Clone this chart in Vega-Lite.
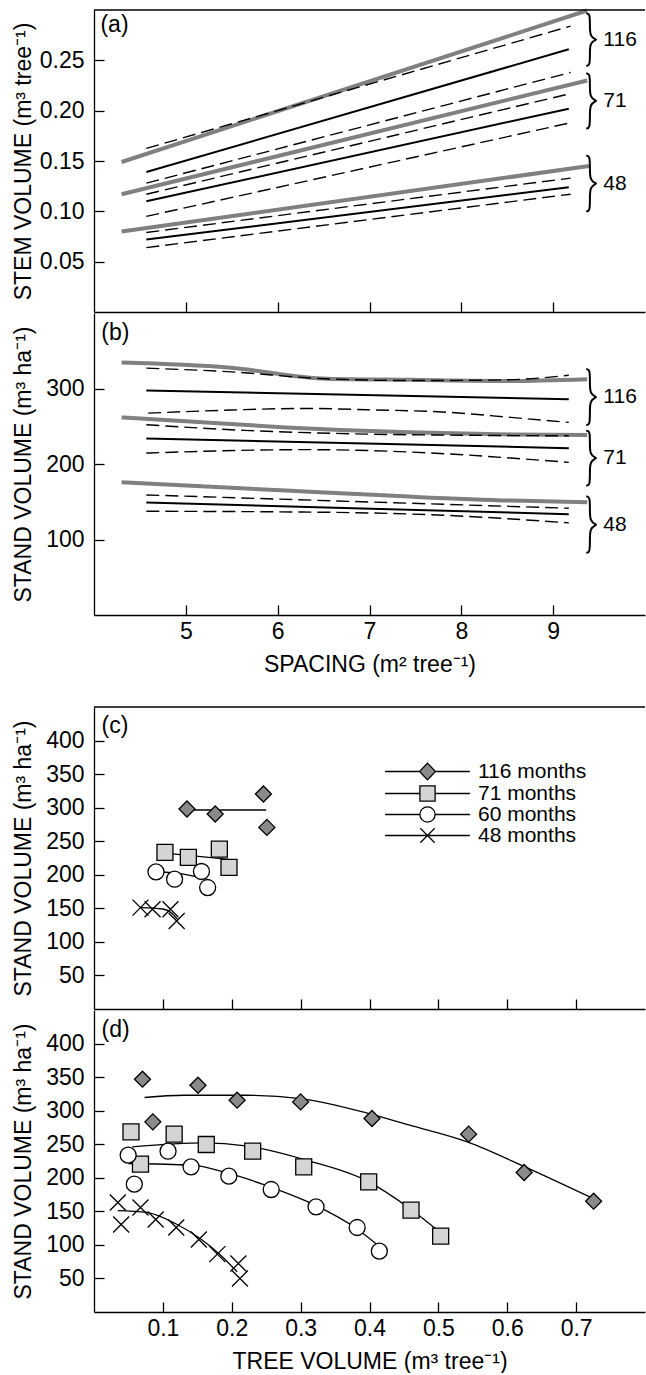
{
  "$schema": "https://vega.github.io/schema/vega-lite/v6.json",
  "padding": {"left": 11, "top": 2, "right": 0, "bottom": 0},
  "config": {
    "view": {"stroke": null},
    "font": "Liberation Sans",
    "text": {"font": "Liberation Sans", "color": "black"},
    "axis": {
      "labelFont": "Liberation Sans", "titleFont": "Liberation Sans",
      "labelFontSize": 23, "titleFontSize": 23, "titleFontWeight": "normal",
      "labelColor": "black", "titleColor": "black",
      "domainColor": "black", "tickColor": "black",
      "domainWidth": 1.3, "tickWidth": 1.3, "grid": false,
      "labelFlush": false, "labelOverlap": false
    },
    "axisY": {"tickSize": -10, "labelPadding": 20, "minExtent": 55, "maxExtent": 55, "titlePadding": 4},
    "axisX": {"tickSize": -10, "labelPadding": 15, "titlePadding": 10},
    "legend": {"labelFont": "Liberation Sans", "labelFontSize": 21, "labelColor": "black"}
  },
  "datasets": {
    "fitA": [
      {"age": "116", "kind": "fit", "spacing": 4.30, "vol": 0.149},
      {"age": "116", "kind": "fit", "spacing": 9.37, "vol": 0.2995},
      {"age": "116", "kind": "upper", "spacing": 4.57, "vol": 0.1625},
      {"age": "116", "kind": "upper", "spacing": 9.19, "vol": 0.284},
      {"age": "116", "kind": "estimate", "spacing": 4.57, "vol": 0.139},
      {"age": "116", "kind": "estimate", "spacing": 9.17, "vol": 0.261},
      {"age": "116", "kind": "lower", "spacing": 4.57, "vol": 0.128},
      {"age": "116", "kind": "lower", "spacing": 9.19, "vol": 0.238},
      {"age": "71", "kind": "fit", "spacing": 4.30, "vol": 0.117},
      {"age": "71", "kind": "fit", "spacing": 9.37, "vol": 0.230},
      {"age": "71", "kind": "upper", "spacing": 4.57, "vol": 0.117},
      {"age": "71", "kind": "upper", "spacing": 9.19, "vol": 0.217},
      {"age": "71", "kind": "estimate", "spacing": 4.57, "vol": 0.110},
      {"age": "71", "kind": "estimate", "spacing": 9.17, "vol": 0.202},
      {"age": "71", "kind": "lower", "spacing": 4.57, "vol": 0.095},
      {"age": "71", "kind": "lower", "spacing": 9.19, "vol": 0.188},
      {"age": "48", "kind": "fit", "spacing": 4.30, "vol": 0.080},
      {"age": "48", "kind": "fit", "spacing": 9.39, "vol": 0.145},
      {"age": "48", "kind": "upper", "spacing": 4.57, "vol": 0.079},
      {"age": "48", "kind": "upper", "spacing": 9.19, "vol": 0.133},
      {"age": "48", "kind": "estimate", "spacing": 4.57, "vol": 0.072},
      {"age": "48", "kind": "estimate", "spacing": 9.17, "vol": 0.124},
      {"age": "48", "kind": "lower", "spacing": 4.57, "vol": 0.064},
      {"age": "48", "kind": "lower", "spacing": 9.19, "vol": 0.117}
    ],
    "fitB": [
      {"age": "116", "kind": "fit", "spacing": 4.30, "vol": 334.4},
      {"age": "116", "kind": "fit", "spacing": 5.46, "vol": 327.8},
      {"age": "116", "kind": "fit", "spacing": 6.54, "vol": 313.0},
      {"age": "116", "kind": "fit", "spacing": 7.43, "vol": 311.5},
      {"age": "116", "kind": "fit", "spacing": 8.54, "vol": 310.0},
      {"age": "116", "kind": "fit", "spacing": 9.37, "vol": 312.3},
      {"age": "116", "kind": "upper", "spacing": 4.57, "vol": 327.0},
      {"age": "116", "kind": "upper", "spacing": 5.5, "vol": 322.0},
      {"age": "116", "kind": "upper", "spacing": 6.5, "vol": 313.0},
      {"age": "116", "kind": "upper", "spacing": 7.5, "vol": 310.5},
      {"age": "116", "kind": "upper", "spacing": 8.5, "vol": 311.5},
      {"age": "116", "kind": "upper", "spacing": 9.17, "vol": 317.6},
      {"age": "116", "kind": "estimate", "spacing": 4.57, "vol": 297.4},
      {"age": "116", "kind": "estimate", "spacing": 9.17, "vol": 285.9},
      {"age": "116", "kind": "lower", "spacing": 4.59, "vol": 267.4},
      {"age": "116", "kind": "lower", "spacing": 5.5, "vol": 271.5},
      {"age": "116", "kind": "lower", "spacing": 6.31, "vol": 273.6},
      {"age": "116", "kind": "lower", "spacing": 6.98, "vol": 271.8},
      {"age": "116", "kind": "lower", "spacing": 7.88, "vol": 268.3},
      {"age": "116", "kind": "lower", "spacing": 8.54, "vol": 261.7},
      {"age": "116", "kind": "lower", "spacing": 9.17, "vol": 255.1},
      {"age": "71", "kind": "fit", "spacing": 4.30, "vol": 261.7},
      {"age": "71", "kind": "fit", "spacing": 5.0, "vol": 256.5},
      {"age": "71", "kind": "fit", "spacing": 6.09, "vol": 248.5},
      {"age": "71", "kind": "fit", "spacing": 7.43, "vol": 241.9},
      {"age": "71", "kind": "fit", "spacing": 8.54, "vol": 239.2},
      {"age": "71", "kind": "fit", "spacing": 9.37, "vol": 238.3},
      {"age": "71", "kind": "upper", "spacing": 4.57, "vol": 252.0},
      {"age": "71", "kind": "upper", "spacing": 5.64, "vol": 244.5},
      {"age": "71", "kind": "upper", "spacing": 6.98, "vol": 239.6},
      {"age": "71", "kind": "upper", "spacing": 8.1, "vol": 238.0},
      {"age": "71", "kind": "upper", "spacing": 9.17, "vol": 237.4},
      {"age": "71", "kind": "estimate", "spacing": 4.57, "vol": 233.9},
      {"age": "71", "kind": "estimate", "spacing": 9.17, "vol": 221.0},
      {"age": "71", "kind": "lower", "spacing": 4.57, "vol": 214.5},
      {"age": "71", "kind": "lower", "spacing": 6.31, "vol": 219.0},
      {"age": "71", "kind": "lower", "spacing": 7.88, "vol": 213.2},
      {"age": "71", "kind": "lower", "spacing": 8.54, "vol": 207.9},
      {"age": "71", "kind": "lower", "spacing": 9.17, "vol": 202.2},
      {"age": "48", "kind": "fit", "spacing": 4.30, "vol": 175.8},
      {"age": "48", "kind": "fit", "spacing": 6.09, "vol": 164.8},
      {"age": "48", "kind": "fit", "spacing": 7.43, "vol": 156.8},
      {"age": "48", "kind": "fit", "spacing": 8.54, "vol": 151.5},
      {"age": "48", "kind": "fit", "spacing": 9.37, "vol": 149.3},
      {"age": "48", "kind": "upper", "spacing": 4.57, "vol": 159.0},
      {"age": "48", "kind": "upper", "spacing": 9.17, "vol": 141.4},
      {"age": "48", "kind": "estimate", "spacing": 4.57, "vol": 148.9},
      {"age": "48", "kind": "estimate", "spacing": 9.17, "vol": 133.5},
      {"age": "48", "kind": "lower", "spacing": 4.57, "vol": 137.4},
      {"age": "48", "kind": "lower", "spacing": 6.5, "vol": 136.1},
      {"age": "48", "kind": "lower", "spacing": 7.88, "vol": 131.7},
      {"age": "48", "kind": "lower", "spacing": 9.17, "vol": 122.0}
    ],
    "bracesA": [
      {"age": "116", "seq": 1, "spacing": 9.36, "vol": 0.2966},
      {"age": "116", "seq": 2, "spacing": 9.40, "vol": 0.2966},
      {"age": "116", "seq": 3, "spacing": 9.40, "vol": 0.2849},
      {"age": "116", "seq": 4, "spacing": 9.40, "vol": 0.2737},
      {"age": "116", "seq": 5, "spacing": 9.47, "vol": 0.2706},
      {"age": "116", "seq": 6, "spacing": 9.47, "vol": 0.2706},
      {"age": "116", "seq": 7, "spacing": 9.40, "vol": 0.2675},
      {"age": "116", "seq": 8, "spacing": 9.40, "vol": 0.2563},
      {"age": "116", "seq": 9, "spacing": 9.40, "vol": 0.2446},
      {"age": "116", "seq": 10, "spacing": 9.36, "vol": 0.2446},
      {"age": "71", "seq": 1, "spacing": 9.36, "vol": 0.2370},
      {"age": "71", "seq": 2, "spacing": 9.40, "vol": 0.2370},
      {"age": "71", "seq": 3, "spacing": 9.40, "vol": 0.2247},
      {"age": "71", "seq": 4, "spacing": 9.40, "vol": 0.2130},
      {"age": "71", "seq": 5, "spacing": 9.47, "vol": 0.2097},
      {"age": "71", "seq": 6, "spacing": 9.47, "vol": 0.2097},
      {"age": "71", "seq": 7, "spacing": 9.40, "vol": 0.2064},
      {"age": "71", "seq": 8, "spacing": 9.40, "vol": 0.1947},
      {"age": "71", "seq": 9, "spacing": 9.40, "vol": 0.1824},
      {"age": "71", "seq": 10, "spacing": 9.36, "vol": 0.1824},
      {"age": "48", "seq": 1, "spacing": 9.36, "vol": 0.1552},
      {"age": "48", "seq": 2, "spacing": 9.40, "vol": 0.1552},
      {"age": "48", "seq": 3, "spacing": 9.40, "vol": 0.1428},
      {"age": "48", "seq": 4, "spacing": 9.40, "vol": 0.1309},
      {"age": "48", "seq": 5, "spacing": 9.47, "vol": 0.1276},
      {"age": "48", "seq": 6, "spacing": 9.47, "vol": 0.1276},
      {"age": "48", "seq": 7, "spacing": 9.40, "vol": 0.1243},
      {"age": "48", "seq": 8, "spacing": 9.40, "vol": 0.1124},
      {"age": "48", "seq": 9, "spacing": 9.40, "vol": 0.1000},
      {"age": "48", "seq": 10, "spacing": 9.36, "vol": 0.1000}
    ],
    "bracesB": [
      {"age": "116", "seq": 1, "spacing": 9.36, "vol": 325.6},
      {"age": "116", "seq": 2, "spacing": 9.40, "vol": 325.6},
      {"age": "116", "seq": 3, "spacing": 9.40, "vol": 309.0},
      {"age": "116", "seq": 4, "spacing": 9.40, "vol": 293.0},
      {"age": "116", "seq": 5, "spacing": 9.47, "vol": 288.6},
      {"age": "116", "seq": 6, "spacing": 9.47, "vol": 288.6},
      {"age": "116", "seq": 7, "spacing": 9.40, "vol": 284.2},
      {"age": "116", "seq": 8, "spacing": 9.40, "vol": 268.2},
      {"age": "116", "seq": 9, "spacing": 9.40, "vol": 251.5},
      {"age": "116", "seq": 10, "spacing": 9.36, "vol": 251.5},
      {"age": "71", "seq": 1, "spacing": 9.36, "vol": 244.1},
      {"age": "71", "seq": 2, "spacing": 9.40, "vol": 244.1},
      {"age": "71", "seq": 3, "spacing": 9.40, "vol": 227.8},
      {"age": "71", "seq": 4, "spacing": 9.40, "vol": 212.2},
      {"age": "71", "seq": 5, "spacing": 9.47, "vol": 207.8},
      {"age": "71", "seq": 6, "spacing": 9.47, "vol": 207.8},
      {"age": "71", "seq": 7, "spacing": 9.40, "vol": 203.4},
      {"age": "71", "seq": 8, "spacing": 9.40, "vol": 187.8},
      {"age": "71", "seq": 9, "spacing": 9.40, "vol": 171.4},
      {"age": "71", "seq": 10, "spacing": 9.36, "vol": 171.4},
      {"age": "48", "seq": 1, "spacing": 9.36, "vol": 156.8},
      {"age": "48", "seq": 2, "spacing": 9.40, "vol": 156.8},
      {"age": "48", "seq": 3, "spacing": 9.40, "vol": 140.1},
      {"age": "48", "seq": 4, "spacing": 9.40, "vol": 124.1},
      {"age": "48", "seq": 5, "spacing": 9.47, "vol": 119.6},
      {"age": "48", "seq": 6, "spacing": 9.47, "vol": 119.6},
      {"age": "48", "seq": 7, "spacing": 9.40, "vol": 115.1},
      {"age": "48", "seq": 8, "spacing": 9.40, "vol": 99.1},
      {"age": "48", "seq": 9, "spacing": 9.40, "vol": 82.4},
      {"age": "48", "seq": 10, "spacing": 9.36, "vol": 82.4}
    ],
    "pointsC": [
      {"series": "116 months", "tree": 0.135, "stand": 298.0},
      {"series": "116 months", "tree": 0.176, "stand": 290.5},
      {"series": "116 months", "tree": 0.246, "stand": 320.4},
      {"series": "116 months", "tree": 0.251, "stand": 270.6},
      {"series": "71 months", "tree": 0.103, "stand": 233.3},
      {"series": "71 months", "tree": 0.137, "stand": 225.8},
      {"series": "71 months", "tree": 0.182, "stand": 238.2},
      {"series": "71 months", "tree": 0.196, "stand": 210.9},
      {"series": "60 months", "tree": 0.090, "stand": 204.4},
      {"series": "60 months", "tree": 0.117, "stand": 193.4},
      {"series": "60 months", "tree": 0.156, "stand": 204.9},
      {"series": "60 months", "tree": 0.165, "stand": 181.0},
      {"series": "48 months", "tree": 0.0675, "stand": 151.1},
      {"series": "48 months", "tree": 0.085, "stand": 148.6},
      {"series": "48 months", "tree": 0.111, "stand": 148.6},
      {"series": "48 months", "tree": 0.120, "stand": 131.2}
    ],
    "curvesC": [
      {"series": "116 months", "tree": 0.135, "stand": 296.5},
      {"series": "116 months", "tree": 0.250, "stand": 296.5},
      {"series": "71 months", "tree": 0.103, "stand": 232.3},
      {"series": "71 months", "tree": 0.196, "stand": 222.8},
      {"series": "60 months", "tree": 0.091, "stand": 204.9},
      {"series": "60 months", "tree": 0.130, "stand": 200.9},
      {"series": "60 months", "tree": 0.169, "stand": 191.9},
      {"series": "48 months", "tree": 0.0675, "stand": 151.0},
      {"series": "48 months", "tree": 0.100, "stand": 149.0},
      {"series": "48 months", "tree": 0.112, "stand": 143.5},
      {"series": "48 months", "tree": 0.121, "stand": 134.0}
    ],
    "pointsD": [
      {"series": "116 months", "tree": 0.0704, "stand": 346.9},
      {"series": "116 months", "tree": 0.0854, "stand": 283.3},
      {"series": "116 months", "tree": 0.151, "stand": 337.9},
      {"series": "116 months", "tree": 0.2078, "stand": 315.6},
      {"series": "116 months", "tree": 0.300, "stand": 313.1},
      {"series": "116 months", "tree": 0.4036, "stand": 288.3},
      {"series": "116 months", "tree": 0.5439, "stand": 265.0},
      {"series": "116 months", "tree": 0.6245, "stand": 207.8},
      {"series": "116 months", "tree": 0.7254, "stand": 165.1},
      {"series": "71 months", "tree": 0.0537, "stand": 268.4},
      {"series": "71 months", "tree": 0.0675, "stand": 220.3},
      {"series": "71 months", "tree": 0.1164, "stand": 264.9},
      {"series": "71 months", "tree": 0.163, "stand": 249.6},
      {"series": "71 months", "tree": 0.2304, "stand": 239.6},
      {"series": "71 months", "tree": 0.3045, "stand": 216.3},
      {"series": "71 months", "tree": 0.3988, "stand": 194.0},
      {"series": "71 months", "tree": 0.4603, "stand": 151.7},
      {"series": "71 months", "tree": 0.5033, "stand": 113.0},
      {"series": "60 months", "tree": 0.0496, "stand": 233.7},
      {"series": "60 months", "tree": 0.0585, "stand": 190.5},
      {"series": "60 months", "tree": 0.1075, "stand": 239.6},
      {"series": "60 months", "tree": 0.1409, "stand": 216.3},
      {"series": "60 months", "tree": 0.1958, "stand": 202.4},
      {"series": "60 months", "tree": 0.2573, "stand": 182.5},
      {"series": "60 months", "tree": 0.3224, "stand": 156.7},
      {"series": "60 months", "tree": 0.3821, "stand": 125.9},
      {"series": "60 months", "tree": 0.4143, "stand": 90.7},
      {"series": "48 months", "tree": 0.0346, "stand": 163.2},
      {"series": "48 months", "tree": 0.0394, "stand": 130.4},
      {"series": "48 months", "tree": 0.0675, "stand": 155.7},
      {"series": "48 months", "tree": 0.0896, "stand": 137.8},
      {"series": "48 months", "tree": 0.1194, "stand": 125.9},
      {"series": "48 months", "tree": 0.1522, "stand": 108.0},
      {"series": "48 months", "tree": 0.1791, "stand": 86.2},
      {"series": "48 months", "tree": 0.2096, "stand": 72.3},
      {"series": "48 months", "tree": 0.2119, "stand": 50.0}
    ],
    "curvesD": [
      {"series": "116 months", "tree": 0.0734, "stand": 319.6},
      {"series": "116 months", "tree": 0.13, "stand": 323.0},
      {"series": "116 months", "tree": 0.22, "stand": 323.0},
      {"series": "116 months", "tree": 0.30, "stand": 318.0},
      {"series": "116 months", "tree": 0.399, "stand": 295.7},
      {"series": "116 months", "tree": 0.4585, "stand": 278.4},
      {"series": "116 months", "tree": 0.542, "stand": 253.5},
      {"series": "116 months", "tree": 0.6257, "stand": 216.3},
      {"series": "116 months", "tree": 0.727, "stand": 168.0},
      {"series": "71 months", "tree": 0.0555, "stand": 246.0},
      {"series": "71 months", "tree": 0.16, "stand": 252.0},
      {"series": "71 months", "tree": 0.22, "stand": 247.6},
      {"series": "71 months", "tree": 0.309, "stand": 226.0},
      {"series": "71 months", "tree": 0.399, "stand": 194.0},
      {"series": "71 months", "tree": 0.4585, "stand": 154.2},
      {"series": "71 months", "tree": 0.5003, "stand": 120.5},
      {"series": "60 months", "tree": 0.0496, "stand": 221.3},
      {"series": "60 months", "tree": 0.142, "stand": 218.8},
      {"series": "60 months", "tree": 0.196, "stand": 206.4},
      {"series": "60 months", "tree": 0.2555, "stand": 186.5},
      {"series": "60 months", "tree": 0.321, "stand": 159.2},
      {"series": "60 months", "tree": 0.381, "stand": 124.4},
      {"series": "60 months", "tree": 0.4167, "stand": 95.6},
      {"series": "48 months", "tree": 0.0346, "stand": 151.2},
      {"series": "48 months", "tree": 0.0764, "stand": 148.3},
      {"series": "48 months", "tree": 0.118, "stand": 131.9},
      {"series": "48 months", "tree": 0.154, "stand": 109.5},
      {"series": "48 months", "tree": 0.1839, "stand": 84.7},
      {"series": "48 months", "tree": 0.2078, "stand": 59.9}
    ]
  },
  "vconcat": [
    {
      "spacing": 0,
      "vconcat": [
        {
          "width": 551, "height": 302,
          "data": {"name": "fitA"},
          "layer": [
            {
              "transform": [{"filter": "datum.kind === 'fit'"}],
              "mark": {"type": "line", "stroke": "#808080", "strokeWidth": 4, "interpolate": "monotone"},
              "encoding": {
                "x": {"field": "spacing", "type": "quantitative", "scale": {"domain": [4, 10], "nice": false, "zero": false},
                      "axis": {"orient": "bottom", "values": [5, 6, 7, 8, 9], "labels": false, "title": null}},
                "y": {"field": "vol", "type": "quantitative", "scale": {"domain": [0, 0.3], "nice": false},
                      "axis": {"values": [0.05, 0.1, 0.15, 0.2, 0.25], "format": ".2f", "title": "STEM VOLUME (m³ tree⁻¹)"}},
                "detail": {"field": "age"}
              }
            },
            {
              "data": {"values": [{}]},
              "mark": {"type": "rule", "stroke": "black", "strokeWidth": 1.3},
              "encoding": {
                "y": {"datum": 0.3, "type": "quantitative", "scale": {"domain": [0, 0.3], "nice": false}, "axis": null}
              }
            },
            {
              "transform": [{"filter": "datum.kind === 'upper' || datum.kind === 'lower'"}],
              "mark": {"type": "line", "stroke": "black", "strokeWidth": 1.4, "strokeDash": [13, 6], "interpolate": "monotone"},
              "encoding": {
                "x": {"field": "spacing", "type": "quantitative", "scale": {"domain": [4, 10], "nice": false, "zero": false}, "axis": null},
                "y": {"field": "vol", "type": "quantitative", "scale": {"domain": [0, 0.3], "nice": false}, "axis": null},
                "detail": [{"field": "age"}, {"field": "kind"}]
              }
            },
            {
              "transform": [{"filter": "datum.kind === 'estimate'"}],
              "mark": {"type": "line", "stroke": "black", "strokeWidth": 2, "interpolate": "monotone"},
              "encoding": {
                "x": {"field": "spacing", "type": "quantitative", "scale": {"domain": [4, 10], "nice": false, "zero": false}, "axis": null},
                "y": {"field": "vol", "type": "quantitative", "scale": {"domain": [0, 0.3], "nice": false}, "axis": null},
                "detail": {"field": "age"}
              }
            },
            {
              "data": {"name": "bracesA"},
              "mark": {"type": "line", "stroke": "black", "strokeWidth": 2, "interpolate": "basis"},
              "encoding": {
                "x": {"field": "spacing", "type": "quantitative", "scale": {"domain": [4, 10], "nice": false, "zero": false}, "axis": null},
                "y": {"field": "vol", "type": "quantitative", "scale": {"domain": [0, 0.3], "nice": false}, "axis": null},
                "detail": {"field": "age"},
                "order": {"field": "seq"}
              }
            },
            {
              "data": {"name": "bracesA"},
              "transform": [{"filter": "datum.seq === 5"}],
              "mark": {"type": "text", "align": "left", "baseline": "middle", "dx": 7, "fontSize": 21},
              "encoding": {
                "x": {"field": "spacing", "type": "quantitative", "scale": {"domain": [4, 10], "nice": false, "zero": false}, "axis": null},
                "y": {"field": "vol", "type": "quantitative", "scale": {"domain": [0, 0.3], "nice": false}, "axis": null},
                "text": {"field": "age"}
              }
            },
            {
              "data": {"values": [{}]},
              "mark": {"type": "text", "text": "(a)", "align": "left", "baseline": "middle", "fontSize": 23},
              "encoding": {
                "x": {"datum": 4.07, "type": "quantitative", "scale": {"domain": [4, 10], "nice": false, "zero": false}, "axis": null},
                "y": {"datum": 0.2854, "type": "quantitative", "scale": {"domain": [0, 0.3], "nice": false}, "axis": null}
              }
            }
          ],
          "resolve": {"axis": {"x": "independent", "y": "independent"}}
        },
        {
          "width": 551, "height": 302,
          "data": {"name": "fitB"},
          "layer": [
            {
              "transform": [{"filter": "datum.kind === 'fit'"}],
              "mark": {"type": "line", "stroke": "#808080", "strokeWidth": 4, "interpolate": "monotone"},
              "encoding": {
                "x": {"field": "spacing", "type": "quantitative", "scale": {"domain": [4, 10], "nice": false, "zero": false},
                      "axis": {"orient": "bottom", "values": [5, 6, 7, 8, 9], "title": "SPACING (m² tree⁻¹)"}},
                "y": {"field": "vol", "type": "quantitative", "scale": {"domain": [0, 400], "nice": false},
                      "axis": {"values": [100, 200, 300], "title": "STAND VOLUME (m³ ha⁻¹)"}},
                "detail": {"field": "age"}
              }
            },
            {
              "transform": [{"filter": "datum.kind === 'upper' || datum.kind === 'lower'"}],
              "mark": {"type": "line", "stroke": "black", "strokeWidth": 1.4, "strokeDash": [13, 6], "interpolate": "monotone"},
              "encoding": {
                "x": {"field": "spacing", "type": "quantitative", "scale": {"domain": [4, 10], "nice": false, "zero": false}, "axis": null},
                "y": {"field": "vol", "type": "quantitative", "scale": {"domain": [0, 400], "nice": false}, "axis": null},
                "detail": [{"field": "age"}, {"field": "kind"}]
              }
            },
            {
              "transform": [{"filter": "datum.kind === 'estimate'"}],
              "mark": {"type": "line", "stroke": "black", "strokeWidth": 2, "interpolate": "monotone"},
              "encoding": {
                "x": {"field": "spacing", "type": "quantitative", "scale": {"domain": [4, 10], "nice": false, "zero": false}, "axis": null},
                "y": {"field": "vol", "type": "quantitative", "scale": {"domain": [0, 400], "nice": false}, "axis": null},
                "detail": {"field": "age"}
              }
            },
            {
              "data": {"name": "bracesB"},
              "mark": {"type": "line", "stroke": "black", "strokeWidth": 2, "interpolate": "basis"},
              "encoding": {
                "x": {"field": "spacing", "type": "quantitative", "scale": {"domain": [4, 10], "nice": false, "zero": false}, "axis": null},
                "y": {"field": "vol", "type": "quantitative", "scale": {"domain": [0, 400], "nice": false}, "axis": null},
                "detail": {"field": "age"},
                "order": {"field": "seq"}
              }
            },
            {
              "data": {"name": "bracesB"},
              "transform": [{"filter": "datum.seq === 5"}],
              "mark": {"type": "text", "align": "left", "baseline": "middle", "dx": 7, "fontSize": 21},
              "encoding": {
                "x": {"field": "spacing", "type": "quantitative", "scale": {"domain": [4, 10], "nice": false, "zero": false}, "axis": null},
                "y": {"field": "vol", "type": "quantitative", "scale": {"domain": [0, 400], "nice": false}, "axis": null},
                "text": {"field": "age"}
              }
            },
            {
              "data": {"values": [{}]},
              "mark": {"type": "text", "text": "(b)", "align": "left", "baseline": "middle", "fontSize": 23},
              "encoding": {
                "x": {"datum": 4.08, "type": "quantitative", "scale": {"domain": [4, 10], "nice": false, "zero": false}, "axis": null},
                "y": {"datum": 373.6, "type": "quantitative", "scale": {"domain": [0, 400], "nice": false}, "axis": null}
              }
            }
          ],
          "resolve": {"axis": {"x": "independent", "y": "independent"}}
        }
      ]
    },
    {
      "spacing": 0,
      "resolve": {
        "scale": {"shape": "independent", "fill": "independent"},
        "legend": {"shape": "independent", "fill": "independent"}
      },
      "vconcat": [
        {
          "width": 551, "height": 302,
          "layer": [
            {
              "data": {"name": "curvesC"},
              "mark": {"type": "line", "stroke": "black", "strokeWidth": 1.3, "interpolate": "monotone"},
              "encoding": {
                "x": {"field": "tree", "type": "quantitative", "scale": {"domain": [0, 0.8], "nice": false},
                      "axis": {"orient": "bottom", "values": [0.1, 0.2, 0.3, 0.4, 0.5, 0.6, 0.7], "labels": false, "title": null}},
                "y": {"field": "stand", "type": "quantitative", "scale": {"domain": [0, 450], "nice": false},
                      "axis": {"values": [50, 100, 150, 200, 250, 300, 350, 400], "title": "STAND VOLUME (m³ ha⁻¹)"}},
                "detail": {"field": "series"}
              }
            },
            {
              "data": {"values": [{}]},
              "mark": {"type": "rule", "stroke": "black", "strokeWidth": 1.3},
              "encoding": {
                "y": {"datum": 450, "type": "quantitative", "scale": {"domain": [0, 450], "nice": false}, "axis": null}
              }
            },
            {
              "data": {"name": "pointsC"},
              "mark": {"type": "point", "filled": true, "stroke": "black", "strokeWidth": 1.3, "size": 256, "opacity": 1},
              "encoding": {
                "x": {"field": "tree", "type": "quantitative", "scale": {"domain": [0, 0.8], "nice": false}, "axis": null},
                "y": {"field": "stand", "type": "quantitative", "scale": {"domain": [0, 450], "nice": false}, "axis": null},
                "shape": {
                  "field": "series", "type": "nominal",
                  "scale": {"domain": ["116 months", "71 months", "60 months", "48 months"],
                            "range": ["diamond", "square", "circle", "M-1,-1L1,1M-1,1L1,-1"]},
                  "legend": null
                },
                "fill": {
                  "field": "series", "type": "nominal",
                  "scale": {"domain": ["116 months", "71 months", "60 months", "48 months"],
                            "range": ["#8a8a8a", "#d4d4d4", "#ffffff", "#ffffff"]},
                  "legend": null
                }
              }
            },
            {
              "data": {"name": "pointsC"},
              "transform": [{"filter": "datum.tree < 0"}],
              "mark": {"type": "point", "filled": true, "stroke": "black", "strokeWidth": 1.3, "size": 256, "opacity": 1},
              "encoding": {
                "x": {"field": "tree", "type": "quantitative", "scale": {"domain": [0, 0.8], "nice": false}, "axis": null},
                "y": {"field": "stand", "type": "quantitative", "scale": {"domain": [0, 450], "nice": false}, "axis": null},
                "shape": {
                  "field": "series", "type": "nominal",
                  "scale": {"domain": ["116 months", "71 months", "60 months", "48 months"],
                            "range": ["M-5.3,0H-1M1,0H5.3M0,-1.05L1,0L0,1.05L-1,0Z",
                                      "M-5.3,0H-0.95M0.95,0H5.3M-0.95,-0.95H0.95V0.95H-0.95Z",
                                      "M-5.3,0H-0.95M0.95,0H5.3M-0.95,0A0.95,0.95,0,1,0,0.95,0A0.95,0.95,0,1,0,-0.95,0Z",
                                      "M-5.3,0H5.3M-0.9,-0.9L0.9,0.9M-0.9,0.9L0.9,-0.9"]},
                  "legend": {"title": null, "orient": "none", "legendX": 323, "legendY": 54, "padding": 0,
                             "symbolSize": 256, "symbolStrokeWidth": 1.3, "labelOffset": 40, "rowPadding": -1}
                },
                "fill": {
                  "field": "series", "type": "nominal",
                  "scale": {"domain": ["116 months", "71 months", "60 months", "48 months"],
                            "range": ["#8a8a8a", "#d4d4d4", "#ffffff", "#ffffff"]},
                  "legend": {"title": null, "orient": "none", "legendX": 323, "legendY": 54, "padding": 0,
                             "symbolSize": 256, "symbolStrokeWidth": 1.3, "labelOffset": 40, "rowPadding": -1}
                }
              }
            },
            {
              "data": {"values": [{}]},
              "mark": {"type": "text", "text": "(c)", "align": "left", "baseline": "middle", "fontSize": 23},
              "encoding": {
                "x": {"datum": 0.011, "type": "quantitative", "scale": {"domain": [0, 0.8], "nice": false}, "axis": null},
                "y": {"datum": 421.7, "type": "quantitative", "scale": {"domain": [0, 450], "nice": false}, "axis": null}
              }
            }
          ],
          "resolve": {
            "axis": {"x": "independent", "y": "independent"},
            "scale": {"shape": "independent", "fill": "independent"},
            "legend": {"shape": "independent", "fill": "independent"}
          }
        },
        {
          "width": 551, "height": 302,
          "layer": [
            {
              "data": {"name": "curvesD"},
              "mark": {"type": "line", "stroke": "black", "strokeWidth": 1.3, "interpolate": "monotone"},
              "encoding": {
                "x": {"field": "tree", "type": "quantitative", "scale": {"domain": [0, 0.8], "nice": false},
                      "axis": {"orient": "bottom", "values": [0.1, 0.2, 0.3, 0.4, 0.5, 0.6, 0.7], "format": ".1f", "title": "TREE VOLUME (m³ tree⁻¹)"}},
                "y": {"field": "stand", "type": "quantitative", "scale": {"domain": [0, 450], "nice": false},
                      "axis": {"values": [50, 100, 150, 200, 250, 300, 350, 400], "title": "STAND VOLUME (m³ ha⁻¹)"}},
                "detail": {"field": "series"}
              }
            },
            {
              "data": {"name": "pointsD"},
              "mark": {"type": "point", "filled": true, "stroke": "black", "strokeWidth": 1.3, "size": 256, "opacity": 1},
              "encoding": {
                "x": {"field": "tree", "type": "quantitative", "scale": {"domain": [0, 0.8], "nice": false}, "axis": null},
                "y": {"field": "stand", "type": "quantitative", "scale": {"domain": [0, 450], "nice": false}, "axis": null},
                "shape": {
                  "field": "series", "type": "nominal",
                  "scale": {"domain": ["116 months", "71 months", "60 months", "48 months"],
                            "range": ["diamond", "square", "circle", "M-1,-1L1,1M-1,1L1,-1"]},
                  "legend": null
                },
                "fill": {
                  "field": "series", "type": "nominal",
                  "scale": {"domain": ["116 months", "71 months", "60 months", "48 months"],
                            "range": ["#8a8a8a", "#d4d4d4", "#ffffff", "#ffffff"]},
                  "legend": null
                }
              }
            },
            {
              "data": {"values": [{}]},
              "mark": {"type": "text", "text": "(d)", "align": "left", "baseline": "middle", "fontSize": 23},
              "encoding": {
                "x": {"datum": 0.011, "type": "quantitative", "scale": {"domain": [0, 0.8], "nice": false}, "axis": null},
                "y": {"datum": 419.7, "type": "quantitative", "scale": {"domain": [0, 450], "nice": false}, "axis": null}
              }
            }
          ],
          "resolve": {"axis": {"x": "independent", "y": "independent"}}
        }
      ]
    }
  ],
  "spacing": 30
}
